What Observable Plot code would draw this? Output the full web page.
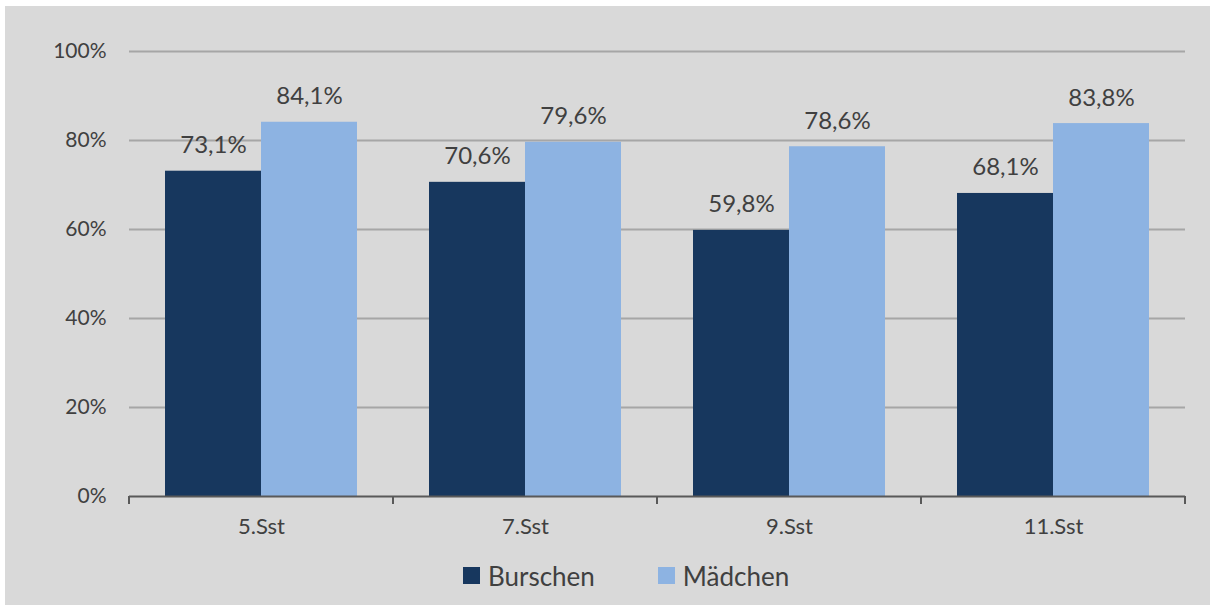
<!DOCTYPE html>
<html>
<head>
<meta charset="utf-8">
<script src="https://cdn.jsdelivr.net/npm/d3@7"></script>
<script src="https://cdn.jsdelivr.net/npm/@observablehq/plot@0.6"></script>
<style>
  html, body { margin: 0; padding: 0; background: #ffffff; }
  #frame { position: absolute; left: 5px; top: 6px; width: 1205px; height: 599px; background: #d9d9d9; font-family: Lato, sans-serif; color: #404040; }
  #legend { display: flex; align-items: center; height: 59px; padding-left: 458px; font-size: 26px; }
  .item { display: flex; align-items: center; }
  .sw { width: 17px; height: 17px; margin-right: 8px; }
</style>
</head>
<body>
<div id="frame"><div id="chart"></div><div id="legend"></div></div>
<script>
const categories = ["5.Sst", "7.Sst", "9.Sst", "11.Sst"];
const series = ["Burschen", "Mädchen"];
const burschen = [73.1, 70.6, 59.8, 68.1];
const maedchen = [84.1, 79.6, 78.6, 83.8];
const yTicks = [0, 20, 40, 60, 80, 100];
const colors = ["#17375e", "#8db3e2"];

const data = categories.flatMap((c, i) => [
  {cat: c, s: series[0], v: burschen[i]},
  {cat: c, s: series[1], v: maedchen[i]}
]);
const fmt = v => v.toFixed(1).replace(".", ",") + "%";

const plot = Plot.plot({
  width: 1205, height: 540,
  marginLeft: 124, marginRight: 25, marginTop: 45, marginBottom: 50,
  style: {background: "transparent", fontFamily: "Lato, sans-serif", color: "#404040", fontSize: "21px", overflow: "visible"},
  fx: {domain: categories, paddingInner: 0, paddingOuter: 0, label: null},
  x: {domain: series, paddingInner: 0, paddingOuter: 0.375, axis: null},
  y: {domain: [0, 100], label: null},
  color: {domain: series, range: colors},
  marks: [
    Plot.gridY(yTicks.filter(d => d > 0), {stroke: "#a6a6a6", strokeOpacity: 1, strokeWidth: 2}),
    Plot.axisY(yTicks, {tickSize: 0, tickPadding: 23, tickFormat: d => d + "%", fontSize: 21, label: null}),
    Plot.axisFx({anchor: "bottom", tickSize: 0, tickPadding: 22, fontSize: 22, label: null}),
    Plot.barY(data, {fx: "cat", x: "s", y: "v", fill: "s"}),
    Plot.ruleY([0], {stroke: "#595959", strokeWidth: 2}),
    Plot.text(data, {fx: "cat", x: "s", y: "v", text: d => fmt(d.v), lineAnchor: "bottom", dy: -18, fontSize: 24, fill: "#404040"})
  ]
});
document.getElementById("chart").appendChild(plot);

// boundary tick marks on the category axis
const fxs = plot.scale("fx");
const ys = plot.scale("y");
const xs = categories.map(c => fxs.apply(c));
xs.push(xs[xs.length - 1] + fxs.bandwidth);
const y0 = ys.apply(0);
d3.select(plot).append("g")
  .selectAll("line").data(xs).join("line")
  .attr("x1", d => d).attr("x2", d => d)
  .attr("y1", y0).attr("y2", y0 + 8)
  .attr("stroke", "#595959").attr("stroke-width", 2);

const legend = d3.select("#legend");
series.forEach((s, i) => {
  const it = legend.append("div").attr("class", "item").style("margin-right", i === 0 ? "63px" : "0");
  it.append("div").attr("class", "sw").style("background", colors[i]);
  it.append("span").text(s);
});
</script>
</body>
</html>
